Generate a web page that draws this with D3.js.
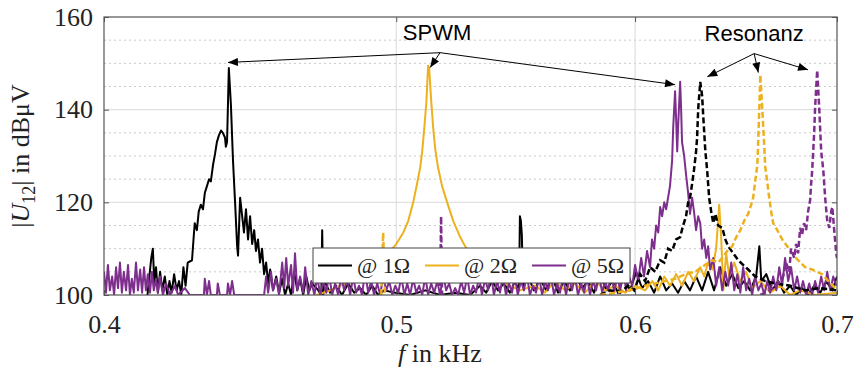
<!DOCTYPE html>
<html>
<head>
<meta charset="utf-8">
<script src="https://cdn.jsdelivr.net/npm/d3@7"></script>
<style>
  html, body { margin: 0; padding: 0; background: #fff; }
  svg { display: block; }
  .axis text { font-family: "Liberation Serif", "Times New Roman", serif; font-size: 26px; fill: #222; }
  .axis line { stroke: #555; }
  .axis-title { font-family: "Liberation Serif", "Times New Roman", serif; font-size: 26px; fill: #222; }
  .legend text { font-family: "Liberation Serif", "Times New Roman", serif; font-size: 22px; fill: #222; }
  .note { font-family: "Liberation Sans", Arial, sans-serif; font-size: 22px; fill: #000; }
</style>
</head>
<body>
<svg id="chart" width="856" height="367"></svg>
<script>
// --- data ---
const xTicks = [0.4, 0.5, 0.6, 0.7];
const yTicks = [100, 120, 140, 160];
const yMinorTicks = [105, 110, 115, 125, 130, 135, 145, 150, 155];
const legendLabels = ["@ 1Ω", "@ 2Ω", "@ 5Ω"];

// SPWM spectra (solid), [f in kHz, |U12| in dBuV]
const spwm1 = [
  [0.4135,100],[0.4141,104],[0.4147,108],[0.4152,110],[0.4157,102],[0.4162,106],[0.4168,100.5],[0.4175,105],
  [0.4182,101],[0.4190,104],[0.4198,100],[0.4205,103],[0.4212,100.5],[0.4220,104.5],[0.4228,101],[0.4236,103],
  [0.4243,100],[0.4250,106],[0.4257,102],[0.4264,107],[0.4278,107.5],[0.4284,113],[0.4287,115.5],[0.4294,114],
  [0.4300,118],[0.4307,119.5],[0.4314,118.5],[0.4320,122],[0.4327,123.5],[0.4334,125],[0.4340,124.5],[0.4347,128],
  [0.4354,130.5],[0.4360,133],[0.4367,134.5],[0.4374,135.5],[0.4380,135],[0.4387,134],[0.4390,132],[0.4394,133],
  [0.4400,149],[0.4407,141],[0.4414,129],[0.4421,120],[0.4428,110.5],[0.4431,108.5],[0.4438,121],[0.4445,117],
  [0.4451,113.5],[0.4458,118.5],[0.4465,112],[0.4472,117],[0.4479,111],[0.4486,114],[0.4492,109.5],[0.4499,112],
  [0.4506,107],[0.4513,110],[0.4520,104.5],[0.4527,107],[0.4534,102.5],[0.4541,105.5],[0.4551,101],[0.4562,104],
  [0.4572,100.5],[0.4583,103.5],[0.4593,100],[0.4604,102.5],[0.4614,100],[0.4625,105],[0.4636,101],[0.4646,103.5],
  [0.4657,100],[0.4668,104],[0.4679,101],[0.4689,102.5],[0.4711,101],[0.4722,100],[0.4725,114],[0.4729,100],
  [0.4733,103],[0.4754,100.5],[0.4776,102],[0.4797,100],[0.4820,102.5],[0.4842,100.5],[0.4864,101.5],[0.4886,100],
  [0.4909,102],[0.4931,100],[0.4954,101],[0.4996,100.5],[0.5053,100],[0.5112,101],[0.5170,100],[0.5230,100.5],
  [0.5290,100],[0.5330,102],[0.5355,100.5],[0.5379,103],[0.5404,101],[0.5428,102.5],[0.5453,100.5],[0.5474,103],
  [0.5491,101],[0.5495,117],[0.5499,116],[0.5503,113],[0.5508,102],[0.5529,104],[0.5554,101],[0.5580,103.5],
  [0.5606,101],[0.5631,104],[0.5657,100.5],[0.5683,103],[0.5709,101],[0.5735,104],[0.5762,101.5],[0.5788,103],
  [0.5815,100.5],[0.5842,104.5],[0.5869,101],[0.5896,103],[0.5923,100.5],[0.5950,104],[0.5977,101],[0.6005,105],
  [0.6032,101.5],[0.6060,103],[0.6088,100.5],[0.6116,104],[0.6144,101],[0.6172,102.5],[0.6200,100.5],[0.6229,103],
  [0.6257,101],[0.6286,104],[0.6315,101],[0.6344,105],[0.6373,101],[0.6403,106],[0.6432,102],[0.6462,104.5],
  [0.6492,101.5],[0.6521,103],[0.6551,101],[0.6581,104],[0.6597,110.5],[0.6607,103],[0.6632,104.5],[0.6662,101],
  [0.6693,103],[0.6723,100.5],[0.6754,102],[0.6785,100],[0.6816,101.5],[0.6847,100],[0.6879,102],[0.6911,100.5],
  [0.6943,103],[0.6975,101],[0.7000,104]
];
const spwm2 = [
  [0.4704,100],[0.4754,101],[0.4809,102.5],[0.4864,104],[0.4909,106],[0.4947,108],[0.4977,109.5],[0.5000,111],
  [0.5027,113.5],[0.5046,116],[0.5065,120],[0.5080,124],[0.5092,127.5],[0.5100,131],[0.5108,136],[0.5116,141.5],
  [0.5123,149.5],[0.5127,149],[0.5135,142],[0.5143,136],[0.5151,131.5],[0.5162,127.5],[0.5178,123.5],[0.5198,120],
  [0.5222,116],[0.5250,112.5],[0.5270,110.5],[0.5310,107.5],[0.5371,104.5],[0.5433,102.5],[0.5495,101],[0.5558,102],
  [0.5601,100.5],[0.5644,103],[0.5687,101],[0.5731,102.5],[0.5775,100.5],[0.5820,103],[0.5864,101],[0.5910,102],
  [0.5955,100.5],[0.6000,102],[0.6046,101],[0.6079,103],[0.6107,101],[0.6135,104],[0.6162,102],[0.6191,104.5],
  [0.6219,102],[0.6248,105],[0.6276,103],[0.6306,106],[0.6325,104],[0.6344,107],[0.6364,105.5],[0.6383,110],
  [0.6398,119.5],[0.6408,112],[0.6418,101],[0.6432,109],[0.6447,104],[0.6472,107],[0.6502,103],[0.6531,105],
  [0.6561,101.5],[0.6602,103],[0.6652,100.5],[0.6703,102],[0.6754,100],[0.6806,101],[0.6884,100],[0.7000,100.5]
];
const spwm5 = [
  [0.4000,105],[0.4006,100.5],[0.4012,106.5],[0.4018,101],[0.4025,104],[0.4031,100],[0.4037,106],[0.4043,101.5],
  [0.4049,107],[0.4055,100.5],[0.4061,105],[0.4068,101],[0.4074,106.5],[0.4080,100],[0.4086,103.5],[0.4092,100.5],
  [0.4099,107],[0.4105,101],[0.4112,105.5],[0.4118,100.5],[0.4124,106],[0.4130,101],[0.4136,104.5],[0.4143,100.5],
  [0.4149,105],[0.4155,101],[0.4162,103.5],[0.4168,100.5],[0.4175,104],[0.4184,100],[0.4194,102.5],[0.4207,100],
  [0.4223,102],[0.4233,100],[0.4255,101.5],[0.4271,100],[0.4317,100],[0.4320,103.5],[0.4327,100],[0.4334,103],
  [0.4340,100],[0.4360,100],[0.4363,102.5],[0.4370,100],[0.4394,100],[0.4397,102.5],[0.4404,100],[0.4411,103],
  [0.4418,100],[0.4520,100],[0.4527,104],[0.4534,100.5],[0.4544,105],[0.4551,101],[0.4562,103.5],[0.4572,100],
  [0.4583,107],[0.4590,101.5],[0.4597,108],[0.4604,102],[0.4614,106.5],[0.4621,100.5],[0.4628,109],[0.4636,101],
  [0.4646,104],[0.4657,100.5],[0.4664,106],[0.4675,100],[0.4686,103],[0.4697,100],[0.4707,104],[0.4718,100],
  [0.4729,103],[0.4740,100.5],[0.4750,104.5],[0.4761,100],[0.4772,102.5],[0.4783,100],[0.4794,104],[0.4805,101],
  [0.4816,103.5],[0.4827,100],[0.4838,104],[0.4849,100.5],[0.4860,102],[0.4871,100],[0.4882,105],[0.4894,100.5],
  [0.4905,103],[0.4916,100],[0.4928,102.5],[0.4939,100],[0.4950,104],[0.4962,101],[0.4973,103],[0.4985,100],
  [0.4996,102],[0.5008,100.5],[0.5019,104],[0.5031,100],[0.5042,102.5],[0.5053,100],[0.5065,103.5],[0.5077,100.5],
  [0.5088,102],[0.5100,100],[0.5112,104],[0.5123,100],[0.5135,102.5],[0.5147,100.5],[0.5159,103],[0.5170,100],
  [0.5182,104.5],[0.5194,101],[0.5206,102.5],[0.5218,100],[0.5230,101.5],[0.5242,100],[0.5254,103],[0.5266,100.5],
  [0.5278,104],[0.5290,100],[0.5302,102],[0.5314,100.5],[0.5326,104],[0.5338,100],[0.5351,103.5],[0.5363,101],
  [0.5375,104.5],[0.5387,100],[0.5400,103],[0.5412,100.5],[0.5424,104],[0.5437,100],[0.5449,102.5],[0.5462,100.5],
  [0.5474,104],[0.5486,100],[0.5499,103],[0.5512,101],[0.5524,104.5],[0.5537,100],[0.5550,102],[0.5563,100.5],
  [0.5576,104],[0.5589,100],[0.5601,103],[0.5614,101],[0.5627,104],[0.5640,100],[0.5653,102.5],[0.5666,100.5],
  [0.5679,104],[0.5692,100],[0.5705,103.5],[0.5718,101],[0.5731,104],[0.5744,100],[0.5758,102.5],[0.5771,100.5],
  [0.5784,104],[0.5797,100],[0.5810,103],[0.5824,101],[0.5837,104.5],[0.5851,100.5],[0.5864,103],[0.5878,101],
  [0.5892,105],[0.5905,100.5],[0.5919,104],[0.5932,101],[0.5946,105.5],[0.5959,101],[0.5973,104],[0.5987,102],
  [0.6000,106.5],[0.6014,103],[0.6028,108],[0.6041,104],[0.6055,109.5],[0.6069,106],[0.6078,112],[0.6088,110],
  [0.6097,115],[0.6107,113.5],[0.6116,119],[0.6125,117],[0.6135,120],[0.6144,118.5],[0.6153,121],[0.6162,123.5],
  [0.6172,129],[0.6177,136],[0.6186,144],[0.6191,138],[0.6196,131],[0.6200,136],[0.6210,146],[0.6214,141],
  [0.6219,133],[0.6229,130],[0.6238,126],[0.6248,122],[0.6257,117.5],[0.6267,121],[0.6276,118],[0.6286,114],
  [0.6296,117],[0.6306,115.5],[0.6315,110],[0.6325,112],[0.6335,108],[0.6344,110.5],[0.6354,105.5],[0.6369,108],
  [0.6383,102],[0.6398,106],[0.6413,101],[0.6428,105],[0.6442,102],[0.6457,107],[0.6472,101],[0.6487,104.5],
  [0.6502,100.5],[0.6516,106],[0.6531,101],[0.6546,103.5],[0.6561,100],[0.6576,104],[0.6592,101],[0.6607,102.5],
  [0.6622,100],[0.6637,103],[0.6652,100.5],[0.6667,104],[0.6683,101],[0.6698,106],[0.6713,102],[0.6728,108],
  [0.6744,103],[0.6759,106],[0.6775,101],[0.6790,104],[0.6806,100.5],[0.6821,103],[0.6837,100],[0.6853,102.5],
  [0.6868,100],[0.6884,103],[0.6900,100.5],[0.6916,104],[0.6932,101],[0.6948,105],[0.6964,101],[0.6980,104],
  [0.6996,102]
];

// Resonance spectra (dashed); null breaks the line
const reso1 = [
  [0.5842,100],[0.5887,101],[0.5932,100.5],[0.5968,102],[0.5996,101],[0.6023,104.5],[0.6046,103],[0.6069,106],
  [0.6093,105],[0.6116,107.5],[0.6135,107],[0.6153,110],[0.6172,109.5],[0.6191,112],[0.6210,112.5],[0.6224,115],
  [0.6238,117],[0.6248,120],[0.6257,121],[0.6267,124],[0.6276,127],[0.6286,131],[0.6291,134],[0.6296,140],
  [0.6306,146],[0.6315,143],[0.6320,139],[0.6330,131.5],[0.6340,126.5],[0.6349,121],[0.6359,118],[0.6369,115.5],
  [0.6379,117.5],[0.6393,115],[0.6413,114.5],[0.6428,112],[0.6442,110.5],[0.6467,109],[0.6492,107.5],[0.6516,106.5],
  [0.6541,105.5],[0.6576,104],[0.6627,103],[0.6678,102.5],[0.6754,102],[0.6832,101],[0.6911,101.5],[0.7000,101]
];
const reso2 = [
  [0.4943,100],[0.4950,113.5],[0.4957,100],[null,null],
  [0.5842,100],[0.5910,100.5],[0.5977,101],[0.6046,102],[0.6093,102.5],[0.6139,103],[0.6186,103.5],[0.6234,104.5],
  [0.6281,105],[0.6330,106.5],[0.6364,107.5],[0.6393,107],[0.6413,108],[0.6437,109.5],[0.6462,110.5],[0.6482,112.5],
  [0.6502,114],[0.6521,116],[0.6541,117.5],[0.6556,119.5],[0.6566,121],[0.6576,124.5],[0.6587,128],[0.6592,134],
  [0.6597,140.5],[0.6602,147.5],[0.6612,140],[0.6622,132],[0.6627,127.5],[0.6637,124.5],[0.6642,122.5],[0.6657,118],
  [0.6667,115.5],[0.6688,114],[0.6713,112],[0.6739,110.5],[0.6764,109],[0.6795,107.5],[0.6832,106],[0.6868,105.5],
  [0.6921,104.5],[0.6953,103],[0.6990,101.5],[0.7000,101]
];
const reso5 = [
  [0.5170,100],[0.5174,117],[0.5178,100],[null,null],
  [0.6602,100],[0.6652,101],[0.6693,102.5],[0.6718,104],[0.6733,107],[0.6749,105],[0.6759,110],[0.6775,108],
  [0.6785,111],[0.6795,109],[0.6806,114.5],[0.6816,113],[0.6826,115.5],[0.6837,114],[0.6847,118],[0.6858,120.5],
  [0.6863,124],[0.6868,126.5],[0.6874,131],[0.6879,135],[0.6884,140.5],[0.6895,148.5],[0.6906,140],[0.6916,131],
  [0.6927,127],[0.6937,121],[0.6948,116],[0.6959,114.5],[0.6969,118],[0.6975,119],[0.6985,114],[0.6996,109],
  [0.7000,108]
];

// annotation anchors in data units: label point, then arrow targets
const spwmFrom = [0.5170, 152.3];
const spwmTargets = [[0.4397, 150.2], [0.5131, 149.1], [0.6186, 145.4]];
const resoFrom = [0.6571, 152.1];
const resoTargets = [[0.6340, 147.1], [0.6592, 148.0], [0.6847, 148.6]];

// --- layout ---
const width = 856, height = 367;
const margin = {top: 17, right: 19, bottom: 72, left: 104};
const colors = ["#000000", "#EDB120", "#7E2F8E"];

const svg = d3.select("#chart");
const x = d3.scaleLog().domain([0.4, 0.7]).range([margin.left, width - margin.right]);
const y = d3.scaleLinear().domain([100, 160]).range([height - margin.bottom, margin.top]);
const x0 = margin.left, x1 = width - margin.right, y0 = height - margin.bottom, y1 = margin.top;

svg.append("defs").append("clipPath").attr("id", "plot-clip")
  .append("rect").attr("x", x0).attr("y", y1).attr("width", x1 - x0).attr("height", y0 - y1);

// grid
const grid = svg.append("g");
grid.selectAll(".minor").data(yMinorTicks).enter().append("line")
  .attr("x1", x0).attr("x2", x1).attr("y1", d => y(d)).attr("y2", d => y(d))
  .attr("stroke", "#c9c9c9").attr("stroke-dasharray", "2,3");
grid.selectAll(".hmajor").data(yTicks.slice(1, -1)).enter().append("line")
  .attr("x1", x0).attr("x2", x1).attr("y1", d => y(d)).attr("y2", d => y(d))
  .attr("stroke", "#dadada");
grid.selectAll(".vmajor").data(xTicks.slice(1, -1)).enter().append("line")
  .attr("y1", y0).attr("y2", y1).attr("x1", d => x(d)).attr("x2", d => x(d))
  .attr("stroke", "#dadada");

// curves
const line = d3.line().defined(d => d[0] != null).x(d => x(d[0])).y(d => y(d[1]));
const curves = svg.append("g").attr("clip-path", "url(#plot-clip)");
const solid = [spwm1, spwm2, spwm5];
const dashed = [reso1, reso2, reso5];
solid.forEach((s, i) => {
  curves.append("path").datum(s).attr("d", line)
    .attr("fill", "none").attr("stroke", colors[i]).attr("stroke-width", 2).attr("stroke-linejoin", "round");
});
dashed.forEach((s, i) => {
  curves.append("path").datum(s).attr("d", line)
    .attr("fill", "none").attr("stroke", colors[i]).attr("stroke-width", 2.5)
    .attr("stroke-dasharray", "6,3");
});

// axes
svg.append("g").attr("class", "axis").attr("transform", `translate(${x0},0)`)
  .call(d3.axisLeft(y).tickValues(yTicks).tickSize(-5).tickPadding(11));
svg.append("g").attr("class", "axis").attr("transform", `translate(${x1},0)`)
  .call(d3.axisRight(y).tickValues(yTicks).tickSize(-5).tickFormat(""));
svg.append("g").attr("class", "axis").attr("transform", `translate(0,${y0})`)
  .call(d3.axisBottom(x).tickValues(xTicks).tickFormat(d3.format(".1f")).tickSize(-5).tickPadding(20));
svg.append("g").attr("class", "axis").attr("transform", `translate(0,${y1})`)
  .call(d3.axisTop(x).tickValues(xTicks).tickSize(-5).tickFormat(""));
svg.selectAll(".axis .domain").remove();
svg.append("rect").attr("x", x0).attr("y", y1).attr("width", x1 - x0).attr("height", y0 - y1)
  .attr("fill", "none").attr("stroke", "#555").attr("stroke-width", 1.2);

// axis titles
const xt = svg.append("text").attr("class", "axis-title")
  .attr("x", 440).attr("y", 362).attr("text-anchor", "middle");
xt.append("tspan").attr("font-style", "italic").text("f");
xt.append("tspan").text(" in kHz");

const yt = svg.append("text").attr("class", "axis-title")
  .attr("transform", `translate(29,${(y0 + y1) / 2}) rotate(-90)`).attr("text-anchor", "middle");
yt.append("tspan").text("|");
yt.append("tspan").attr("font-style", "italic").text("U");
yt.append("tspan").attr("font-size", "18px").attr("dy", 6).text("12");
yt.append("tspan").attr("dy", -6).text("| in dBμV");

// annotations
svg.append("defs").append("marker").attr("id", "arrow")
  .attr("viewBox", "0 0 10 8").attr("refX", 10).attr("refY", 4)
  .attr("markerWidth", 11).attr("markerHeight", 8).attr("markerUnits", "userSpaceOnUse")
  .attr("orient", "auto")
  .append("path").attr("d", "M0,0L10,4L0,8Z").attr("fill", "#000");

function arrows(from, targets) {
  svg.append("g").selectAll("line").data(targets).enter().append("line")
    .attr("x1", x(from[0])).attr("y1", y(from[1]))
    .attr("x2", d => x(d[0])).attr("y2", d => y(d[1]))
    .attr("stroke", "#000").attr("stroke-width", 1).attr("marker-end", "url(#arrow)");
}
arrows(spwmFrom, spwmTargets);
arrows(resoFrom, resoTargets);
svg.append("text").attr("class", "note").attr("x", x(spwmFrom[0]) - 3).attr("y", y(spwmFrom[1]) - 13)
  .attr("text-anchor", "middle").text("SPWM");
svg.append("text").attr("class", "note").attr("x", x(resoFrom[0])).attr("y", y(resoFrom[1]) - 13)
  .attr("text-anchor", "middle").text("Resonanz");

// legend
const legend = svg.append("g").attr("class", "legend");
legend.append("rect").attr("x", 313).attr("y", 248).attr("width", 317).attr("height", 35)
  .attr("fill", "#fff").attr("stroke", "#444").attr("stroke-width", 1);
const itemX = [318, 425, 532];
legendLabels.forEach((lab, i) => {
  legend.append("line").attr("x1", itemX[i]).attr("x2", itemX[i] + 34)
    .attr("y1", 265.5).attr("y2", 265.5).attr("stroke", colors[i]).attr("stroke-width", 2);
  legend.append("text").attr("x", itemX[i] + 39).attr("y", 273).text(lab);
});
</script>
</body>
</html>
